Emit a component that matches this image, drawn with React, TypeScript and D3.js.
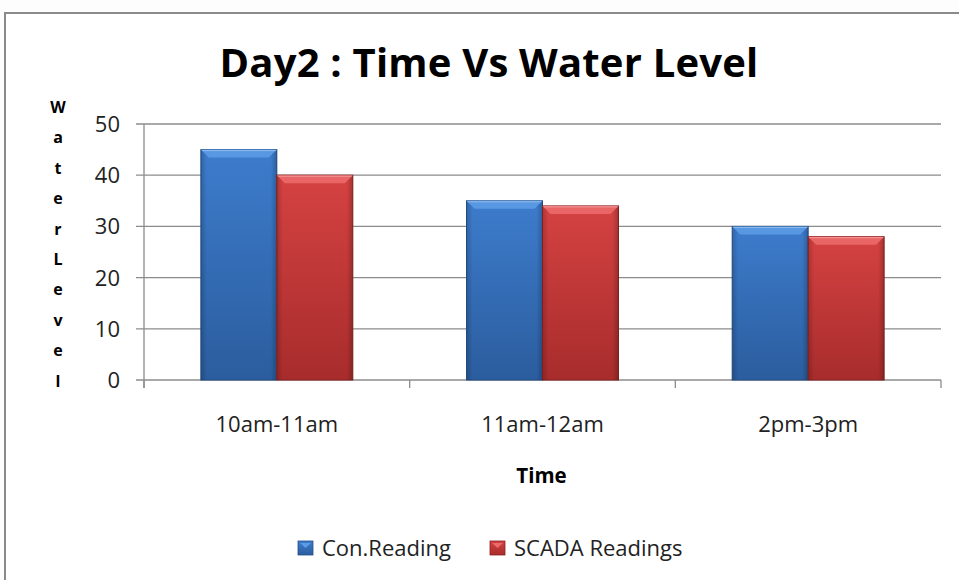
import React from "react";
import * as d3 from "d3";

const categories = ["10am-11am", "11am-12am", "2pm-3pm"];
const seriesNames = ["Con.Reading", "SCADA Readings"];
const conValues = [45, 35, 30];
const scadaValues = [40, 34, 28];
const yTicks = [0, 10, 20, 30, 40, 50];
const yTitleLetters = ["W", "a", "t", "e", "r", "L", "e", "v", "e", "l"];

const W = 959;
const H = 580;
const plot = { left: 144, right: 941, top: 124, bottom: 380 };
const font = "'Open Sans', 'Noto Sans', sans-serif";

const colors = [
  { light: "#5b9be6", mid: "#3d7ccc", dark: "#2b5d9e", edge: "#24508a" },
  { light: "#ec6a6a", mid: "#d54242", dark: "#a82c2c", edge: "#8c2222" },
];

export default function App() {
  const x0 = d3
    .scaleBand<string>()
    .domain(categories)
    .range([plot.left, plot.right])
    .paddingInner(0.428)
    .paddingOuter(0.214);
  const x1 = d3.scaleBand<number>().domain([0, 1]).range([0, x0.bandwidth()]);
  const y = d3.scaleLinear().domain([0, 50]).range([plot.bottom, plot.top]);
  const series = [conValues, scadaValues];
  const step = (plot.right - plot.left) / categories.length;

  return (
    <svg width={W} height={H} style={{ position: "absolute", left: 0, top: 0 }}>
      <defs>
        {colors.map((c, i) => (
          <linearGradient key={i} id={`g${i}`} x1="0" y1="0" x2="0" y2="1">
            <stop offset="0" stopColor={c.mid} />
            <stop offset="1" stopColor={c.dark} />
          </linearGradient>
        ))}
        {colors.map((c, i) => (
          <linearGradient key={`h${i}`} id={`h${i}`} x1="0" y1="0" x2="1" y2="0">
            <stop offset="0" stopColor="#000" stopOpacity={0.18} />
            <stop offset="0.08" stopColor="#000" stopOpacity={0} />
            <stop offset="0.92" stopColor="#000" stopOpacity={0} />
            <stop offset="1" stopColor="#000" stopOpacity={0.22} />
          </linearGradient>
        ))}
      </defs>
      <rect x={0} y={0} width={W} height={H} fill="#fdfdfd" />
      <rect x={5} y={13} width={W + 10} height={H + 10} fill="#fff" stroke="#8a8a8a" strokeWidth={2} />
      <text
        x={489}
        y={77}
        textAnchor="middle"
        fontFamily={font}
        fontWeight="bold"
        fontSize={40}
        fill="#000"
        style={{ letterSpacing: "0.2px" }}
      >
        Day2 : Time Vs Water Level
      </text>
      {/* gridlines */}
      {yTicks.map((t) => (
        <g key={t}>
          <line x1={plot.left - 8} x2={plot.right} y1={y(t)} y2={y(t)} stroke="#8c8c8c" strokeWidth={1.3} />
          <text
            x={120}
            y={y(t)}
            dy="0.36em"
            textAnchor="end"
            fontFamily={font}
            fontSize={22}
            fill="#222"
          >
            {t}
          </text>
        </g>
      ))}
      <line x1={plot.left} x2={plot.left} y1={plot.top} y2={plot.bottom + 8} stroke="#8c8c8c" strokeWidth={1.3} />
      {d3.range(categories.length + 1).map((i) => (
        <line
          key={i}
          x1={plot.left + i * step}
          x2={plot.left + i * step}
          y1={plot.bottom}
          y2={plot.bottom + 8}
          stroke="#8c8c8c"
          strokeWidth={1.3}
        />
      ))}
      {/* bars */}
      {categories.map((cat, ci) =>
        series.map((vals, si) => {
          const bx = (x0(cat) as number) + (x1(si) as number);
          const bw = x1.bandwidth();
          const by = y(vals[ci]);
          const bh = plot.bottom - by;
          const c = colors[si];
          const bev = 8;
          return (
            <g key={`${ci}-${si}`}>
              <rect x={bx} y={by} width={bw} height={bh} fill={`url(#g${si})`} stroke={c.edge} strokeWidth={1} />
              <rect x={bx} y={by} width={bw} height={bh} fill={`url(#h${si})`} />
              <polygon
                points={`${bx},${by} ${bx + bw},${by} ${bx + bw - bev},${by + bev} ${bx + bev},${by + bev}`}
                fill={c.light}
                opacity={0.9}
              />
              <line x1={bx + 1} x2={bx + bw - 1} y1={by + 1} y2={by + 1} stroke="#fff" strokeOpacity={0.35} />
            </g>
          );
        })
      )}
      {/* x labels */}
      {categories.map((cat) => (
        <text
          key={cat}
          x={(x0(cat) as number) + x0.bandwidth() / 2}
          y={432}
          textAnchor="middle"
          fontFamily={font}
          fontSize={22}
          fill="#222"
        >
          {cat}
        </text>
      ))}
      <text x={541.5} y={483} textAnchor="middle" fontFamily={font} fontWeight="bold" fontSize={20.5} fill="#000">
        Time
      </text>
      {/* y title */}
      {yTitleLetters.map((l, i) => (
        <text
          key={i}
          x={58}
          y={113 + i * 30.4}
          textAnchor="middle"
          fontFamily={font}
          fontWeight="bold"
          fontSize={16}
          fill="#000"
        >
          {l}
        </text>
      ))}
      {/* legend */}
      {seriesNames.map((n, i) => {
        const lx = [298, 490][i];
        return (
          <g key={n}>
            <rect x={lx} y={541} width={15} height={14} fill={`url(#g${i})`} stroke={colors[i].edge} strokeWidth={0.8} />
            <polygon points={`${lx + 2},${543} ${lx + 13},${543} ${lx + 7.5},${548}`} fill={colors[i].light} />
            <text x={lx + 24} y={556} fontFamily={font} fontSize={22} fill="#222">
              {n}
            </text>
          </g>
        );
      })}
    </svg>
  );
}
